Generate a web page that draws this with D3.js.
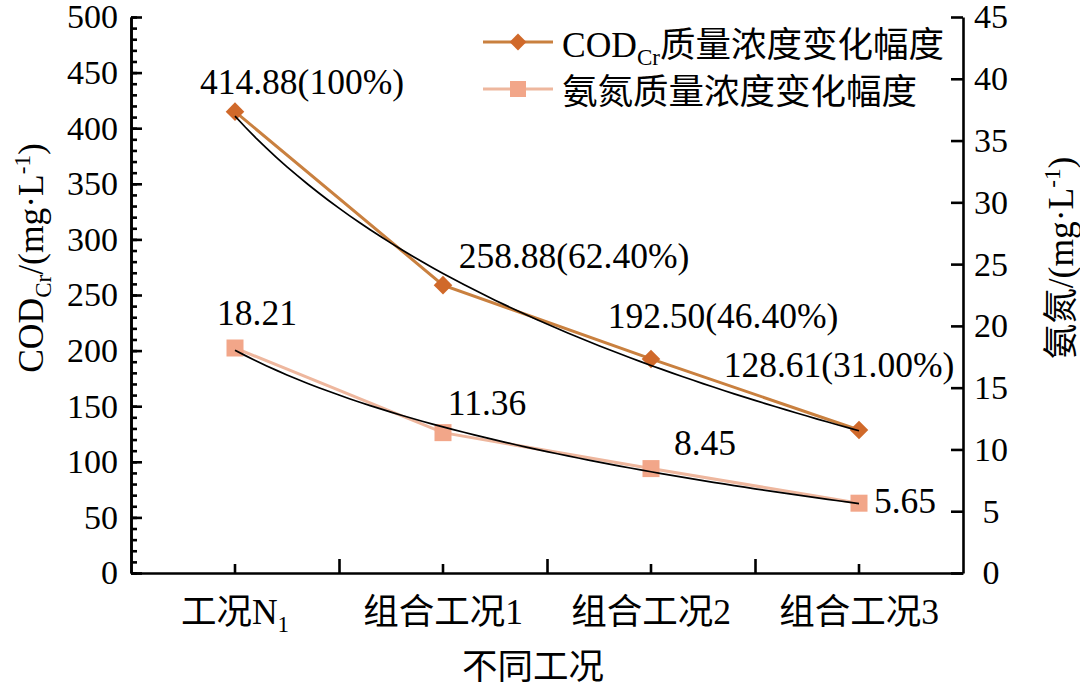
<!DOCTYPE html>
<html>
<head>
<meta charset="utf-8">
<script src="https://cdn.jsdelivr.net/npm/d3@7"></script>
<style>
  body { margin: 0; background: #fff; }
  text { font-family: "Liberation Serif", "Times New Roman", "Noto Sans CJK SC", serif; fill: #000; }
</style>
</head>
<body>
<svg id="chart" width="1080" height="686"></svg>
<script>
// data
var categories = ["工况N_1", "组合工况1", "组合工况2", "组合工况3"];
var codValues = [414.88, 258.88, 192.50, 128.61];
var codShare = ["100%", "62.40%", "46.40%", "31.00%"];
var nh3Values = [18.21, 11.36, 8.45, 5.65];
var leftMajor = d3.range(0, 501, 50);
var leftMinor = d3.range(0, 501, 10);
var rightTicks = d3.range(0, 46, 5);

// label nudges (pixels) relative to each point
var codLabelShift = [[67, -18], [131, -17], [72, -31], [-20, -53]];
var nh3LabelShift = [[22, -23], [44, -18], [54, -14], [46, 10]];

var plotLeft = 131, plotRight = 963, plotTop = 17, plotBottom = 573;
var codColor = "#d0692a", codLine = "#c9803f";
var nh3Color = "#f2a689", nh3Line = "#eeb79e";
var fs = 34, fsBig = 35.5;

var svg = d3.select("#chart");

var x = d3.scaleBand().domain(categories).range([plotLeft, plotRight]);
var xc = function(d) { return x(d) + x.bandwidth() / 2; };
var yL = d3.scaleLinear().domain([0, 500]).range([plotBottom, plotTop]);
var yR = d3.scaleLinear().domain([0, 45]).range([plotBottom, plotTop]);

// writes "a_b" as a subscript, "a^b" as a superscript
function richText(sel, str, size) {
  var parts = String(str).split(/([_^][^\/)质氨]*)/).filter(function(p) { return p; });
  var back = 0;
  parts.forEach(function(p) {
    if (p[0] === "_" || p[0] === "^") {
      var shift = p[0] === "_" ? size * 0.22 : -size * 0.38;
      sel.append("tspan").attr("font-size", size * 0.65).attr("dy", shift + back).text(p.slice(1));
      back = -shift;
    } else {
      var t = sel.append("tspan").text(p);
      if (back) t.attr("dy", back);
      back = 0;
    }
  });
}

// left axis
var gL = svg.append("g").attr("transform", "translate(" + plotLeft + ",0)");
gL.call(d3.axisLeft(yL).tickValues(leftMinor).tickSizeInner(-6).tickSizeOuter(0).tickFormat(""));
gL.selectAll(".tick text").remove();
gL.append("g").call(d3.axisLeft(yL).tickValues(leftMajor).tickSizeInner(-11).tickSizeOuter(0).tickPadding(13));
gL.selectAll("text").attr("font-size", fs).attr("font-family", null).attr("fill", "#000");

// right axis
var gR = svg.append("g").attr("transform", "translate(" + plotRight + ",0)");
gR.call(d3.axisRight(yR).tickValues(rightTicks).tickSizeInner(-12).tickSizeOuter(0));
gR.selectAll("text").attr("font-size", fs).attr("font-family", null).attr("fill", "#000")
  .attr("text-anchor", "middle").attr("x", 28);

// bottom axis
var gB = svg.append("g").attr("transform", "translate(0," + plotBottom + ")");
gB.call(d3.axisBottom(x).tickSizeInner(-9).tickSizeOuter(0));
gB.selectAll(".tick text").each(function(d) {
  var t = d3.select(this).text("").attr("font-size", fsBig).attr("font-family", null).attr("fill", "#000")
    .attr("y", 51).attr("dy", null);
  richText(t, d, fsBig);
});
var edges = d3.scaleLinear().domain([0, categories.length]).range([plotLeft, plotRight]);
var gE = gB.append("g").call(d3.axisBottom(edges).tickValues(d3.range(1, categories.length)).tickSizeInner(-14).tickSizeOuter(0).tickFormat(""));
gE.select(".domain").remove();
gE.selectAll(".tick text").remove();

svg.selectAll(".domain").attr("stroke", "#000").attr("stroke-width", 2.6);
svg.selectAll(".tick line").attr("stroke", "#000").attr("stroke-width", 2.6);

// axis titles
var tL = svg.append("text").attr("transform", "translate(43,258) rotate(-90)")
  .attr("text-anchor", "middle").attr("font-size", fsBig);
richText(tL, "COD_Cr/(mg·L^-1)", fsBig);
var tR = svg.append("text").attr("transform", "translate(1073,258) rotate(-90)")
  .attr("text-anchor", "middle").attr("font-size", fsBig);
richText(tR, "氨氮/(mg·L^-1)", fsBig);
svg.append("text").attr("x", 533).attr("y", 679).attr("text-anchor", "middle")
  .attr("font-size", fsBig).text("不同工况");

// series lines
var codData = categories.map(function(c, i) { return { c: c, v: codValues[i] }; });
var nh3Data = categories.map(function(c, i) { return { c: c, v: nh3Values[i] }; });

svg.append("path").datum(codData)
  .attr("fill", "none").attr("stroke", codLine).attr("stroke-width", 3)
  .attr("d", d3.line().x(function(d) { return xc(d.c); }).y(function(d) { return yL(d.v); }));
svg.append("path").datum(nh3Data)
  .attr("fill", "none").attr("stroke", nh3Line).attr("stroke-width", 3)
  .attr("d", d3.line().x(function(d) { return xc(d.c); }).y(function(d) { return yR(d.v); }));

var diamond = d3.symbol().type(d3.symbolDiamond2).size(220);
svg.selectAll(".cod").data(codData).enter().append("path")
  .attr("class", "cod")
  .attr("transform", function(d) { return "translate(" + xc(d.c) + "," + yL(d.v) + ")"; })
  .attr("d", diamond).attr("fill", codColor);

svg.selectAll(".nh3").data(nh3Data).enter().append("rect")
  .attr("class", "nh3")
  .attr("x", function(d) { return xc(d.c) - 8.5; })
  .attr("y", function(d) { return yR(d.v) - 8.5; })
  .attr("width", 17).attr("height", 17).attr("fill", nh3Color);

// logarithmic trendlines (least squares on ln of the position 1..n)
function logFit(vals) {
  var lx = vals.map(function(v, i) { return Math.log(i + 1); });
  var mx = d3.mean(lx), my = d3.mean(vals);
  var sxy = d3.sum(lx, function(l, i) { return (l - mx) * (vals[i] - my); });
  var sxx = d3.sum(lx, function(l) { return (l - mx) * (l - mx); });
  var b = sxy / sxx, a = my - b * mx;
  return function(t) { return a + b * Math.log(t); };
}
var pos = d3.scaleLinear().domain([1, categories.length]).range([xc(categories[0]), xc(categories[categories.length - 1])]);
var ts = d3.range(1, categories.length + 0.001, 0.05);
[[codValues, yL], [nh3Values, yR]].forEach(function(s) {
  var f = logFit(s[0]);
  svg.append("path").datum(ts)
    .attr("fill", "none").attr("stroke", "#000").attr("stroke-width", 1.7)
    .attr("d", d3.line().x(function(t) { return pos(t); }).y(function(t) { return s[1](f(t)); }));
});

// data labels
svg.selectAll(".codlab").data(codData).enter().append("text")
  .attr("class", "codlab").attr("font-size", fsBig).attr("text-anchor", "middle")
  .attr("x", function(d, i) { return xc(d.c) + codLabelShift[i][0]; })
  .attr("y", function(d, i) { return yL(d.v) + codLabelShift[i][1]; })
  .text(function(d, i) { return d.v.toFixed(2) + "(" + codShare[i] + ")"; });
svg.selectAll(".nh3lab").data(nh3Data).enter().append("text")
  .attr("class", "nh3lab").attr("font-size", fsBig).attr("text-anchor", "middle")
  .attr("x", function(d, i) { return xc(d.c) + nh3LabelShift[i][0]; })
  .attr("y", function(d, i) { return yR(d.v) + nh3LabelShift[i][1]; })
  .text(function(d) { return d.v.toFixed(2); });

// legend
var legend = [
  { name: "COD_Cr质量浓度变化幅度", color: codLine, mark: codColor, shape: "diamond" },
  { name: "氨氮质量浓度变化幅度", color: nh3Line, mark: nh3Color, shape: "square" }
];
var lg = svg.selectAll(".leg").data(legend).enter().append("g")
  .attr("class", "leg")
  .attr("transform", function(d, i) { return "translate(483," + (42 + i * 47) + ")"; });
lg.append("line").attr("x1", 0).attr("x2", 70)
  .attr("stroke", function(d) { return d.color; }).attr("stroke-width", 3);
lg.each(function(d) {
  var g = d3.select(this);
  if (d.shape === "diamond") {
    g.append("path").attr("transform", "translate(35,0)").attr("d", d3.symbol().type(d3.symbolDiamond2).size(180)).attr("fill", d.mark);
  } else {
    g.append("rect").attr("x", 27).attr("y", -8).attr("width", 16).attr("height", 16).attr("fill", d.mark);
  }
  var t = g.append("text").attr("x", 79).attr("y", 15).attr("font-size", fsBig);
  richText(t, d.name, fsBig);
});
</script>
</body>
</html>
